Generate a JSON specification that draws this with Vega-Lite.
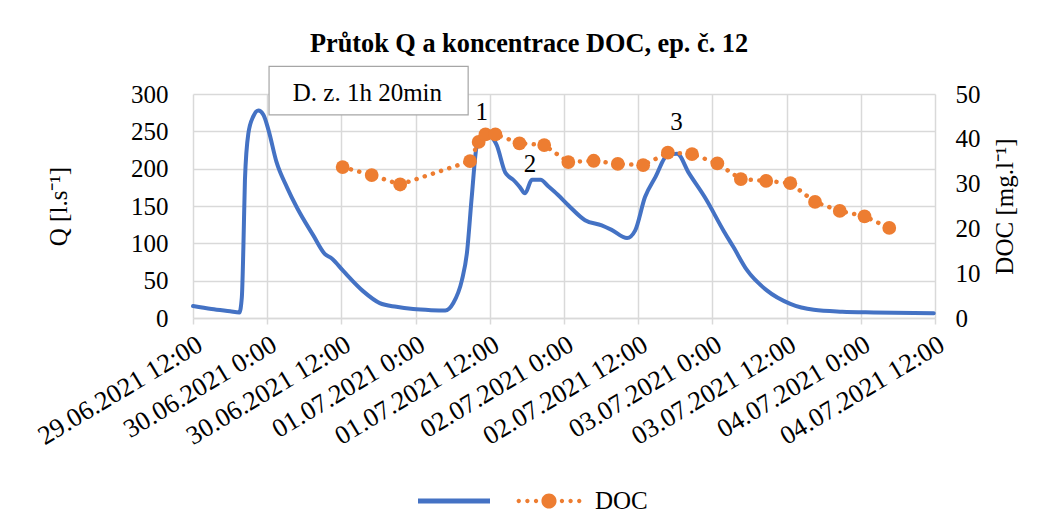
{
  "$schema": "https://vega.github.io/schema/vega-lite/v6.json",
  "width": 742,
  "height": 224,
  "padding": {"left": 193, "top": 94, "right": 106, "bottom": 212},
  "autosize": {"type": "none"},
  "background": "white",
  "config": {
    "font": "Liberation Serif",
    "view": {"stroke": null},
    "axis": {"labelColor": "black", "titleColor": "black", "labelFont": "Liberation Serif", "titleFont": "Liberation Serif"},
    "legend": {"labelFont": "Liberation Serif"},
    "text": {"font": "Liberation Serif"}
  },
  "title": {
    "text": "Průtok Q a koncentrace DOC, ep. č. 12",
    "font": "Liberation Serif",
    "fontSize": 26.3,
    "fontWeight": "bold",
    "color": "black",
    "anchor": "middle",
    "dx": -35,
    "offset": 8
  },
  "datasets": {
    "qdata": [
      {"time": "2021-06-29T12:00", "Q": 16},
      {"time": "2021-06-29T15:00", "Q": 12},
      {"time": "2021-06-29T18:00", "Q": 9},
      {"time": "2021-06-29T19:30", "Q": 7.5},
      {"time": "2021-06-29T19:54", "Q": 28},
      {"time": "2021-06-29T20:09", "Q": 95},
      {"time": "2021-06-29T20:24", "Q": 185},
      {"time": "2021-06-29T20:57", "Q": 247},
      {"time": "2021-06-29T21:45", "Q": 270},
      {"time": "2021-06-29T22:33", "Q": 278},
      {"time": "2021-06-29T23:24", "Q": 272},
      {"time": "2021-06-30T00:12", "Q": 252},
      {"time": "2021-06-30T01:30", "Q": 209},
      {"time": "2021-06-30T03:12", "Q": 175},
      {"time": "2021-06-30T04:48", "Q": 148},
      {"time": "2021-06-30T07:30", "Q": 110},
      {"time": "2021-06-30T09:18", "Q": 86},
      {"time": "2021-06-30T10:24", "Q": 80},
      {"time": "2021-06-30T12:18", "Q": 63},
      {"time": "2021-06-30T15:30", "Q": 36},
      {"time": "2021-06-30T18:12", "Q": 20},
      {"time": "2021-06-30T20:54", "Q": 15},
      {"time": "2021-06-30T23:36", "Q": 12},
      {"time": "2021-07-01T02:30", "Q": 10.5},
      {"time": "2021-07-01T04:48", "Q": 10},
      {"time": "2021-07-01T06:06", "Q": 20},
      {"time": "2021-07-01T07:30", "Q": 51},
      {"time": "2021-07-01T08:18", "Q": 87},
      {"time": "2021-07-01T09:06", "Q": 164},
      {"time": "2021-07-01T09:54", "Q": 231},
      {"time": "2021-07-01T11:00", "Q": 245},
      {"time": "2021-07-01T12:06", "Q": 243},
      {"time": "2021-07-01T13:06", "Q": 232},
      {"time": "2021-07-01T14:30", "Q": 195},
      {"time": "2021-07-01T15:00", "Q": 190},
      {"time": "2021-07-01T15:48", "Q": 185},
      {"time": "2021-07-01T16:48", "Q": 176},
      {"time": "2021-07-01T17:42", "Q": 167},
      {"time": "2021-07-01T18:48", "Q": 185},
      {"time": "2021-07-01T20:12", "Q": 185},
      {"time": "2021-07-01T21:30", "Q": 176},
      {"time": "2021-07-01T23:00", "Q": 165},
      {"time": "2021-07-02T00:42", "Q": 151},
      {"time": "2021-07-02T03:24", "Q": 131},
      {"time": "2021-07-02T06:06", "Q": 124},
      {"time": "2021-07-02T07:42", "Q": 118},
      {"time": "2021-07-02T10:12", "Q": 107},
      {"time": "2021-07-02T11:30", "Q": 117},
      {"time": "2021-07-02T13:06", "Q": 162},
      {"time": "2021-07-02T14:48", "Q": 189},
      {"time": "2021-07-02T16:42", "Q": 218},
      {"time": "2021-07-02T18:18", "Q": 220},
      {"time": "2021-07-02T20:12", "Q": 194},
      {"time": "2021-07-02T22:54", "Q": 160},
      {"time": "2021-07-03T01:48", "Q": 117},
      {"time": "2021-07-03T03:24", "Q": 95},
      {"time": "2021-07-03T05:36", "Q": 64},
      {"time": "2021-07-03T08:48", "Q": 37},
      {"time": "2021-07-03T12:36", "Q": 19},
      {"time": "2021-07-03T16:24", "Q": 11},
      {"time": "2021-07-03T21:00", "Q": 8.5},
      {"time": "2021-07-04T02:06", "Q": 7.5},
      {"time": "2021-07-04T11:48", "Q": 6.5}
    ],
    "docdata": [
      {"time": "2021-06-30T12:12", "DOC": 33.7, "series": "DOC"},
      {"time": "2021-06-30T16:54", "DOC": 31.9, "series": "DOC"},
      {"time": "2021-06-30T21:30", "DOC": 29.8, "series": "DOC"},
      {"time": "2021-07-01T08:48", "DOC": 35.0, "series": "DOC"},
      {"time": "2021-07-01T10:12", "DOC": 39.3, "series": "DOC"},
      {"time": "2021-07-01T11:18", "DOC": 41.0, "series": "DOC"},
      {"time": "2021-07-01T12:54", "DOC": 41.0, "series": "DOC"},
      {"time": "2021-07-01T16:48", "DOC": 39.0, "series": "DOC"},
      {"time": "2021-07-01T20:48", "DOC": 38.6, "series": "DOC"},
      {"time": "2021-07-02T00:42", "DOC": 34.8, "series": "DOC"},
      {"time": "2021-07-02T04:48", "DOC": 35.1, "series": "DOC"},
      {"time": "2021-07-02T08:42", "DOC": 34.4, "series": "DOC"},
      {"time": "2021-07-02T12:48", "DOC": 34.1, "series": "DOC"},
      {"time": "2021-07-02T16:48", "DOC": 36.9, "series": "DOC"},
      {"time": "2021-07-02T20:42", "DOC": 36.6, "series": "DOC"},
      {"time": "2021-07-03T00:48", "DOC": 34.5, "series": "DOC"},
      {"time": "2021-07-03T04:36", "DOC": 31.0, "series": "DOC"},
      {"time": "2021-07-03T08:42", "DOC": 30.6, "series": "DOC"},
      {"time": "2021-07-03T12:36", "DOC": 30.1, "series": "DOC"},
      {"time": "2021-07-03T16:36", "DOC": 25.9, "series": "DOC"},
      {"time": "2021-07-03T20:36", "DOC": 23.9, "series": "DOC"},
      {"time": "2021-07-04T00:36", "DOC": 22.7, "series": "DOC"},
      {"time": "2021-07-04T04:36", "DOC": 20.1, "series": "DOC"}
    ],
    "boxdata": [
      {"time": "2021-06-30T00:18", "time2": "2021-07-01T08:30", "Q": 337, "Q2": 272}
    ],
    "boxtextdata": [
      {"time": "2021-06-30T16:12", "Q": 302, "label": "D. z. 1h 20min"}
    ],
    "notedata": [
      {"time": "2021-07-01T10:42", "Q": 276, "label": "1"},
      {"time": "2021-07-01T18:30", "Q": 206, "label": "2"},
      {"time": "2021-07-02T18:12", "Q": 263, "label": "3"}
    ]
  },
  "encoding": {
    "x": {
      "field": "time", "type": "temporal",
      "scale": {"domain": ["2021-06-29T12:00", "2021-07-04T12:00"]},
      "axis": {
        "title": null,
        "format": "%d.%m.%Y %-H:%M",
        "tickCount": 10,
        "labelAngle": -31,
        "labelAlign": "right",
        "labelBaseline": "top",
        "labelFont": "Liberation Serif",
        "labelFontSize": 26.5,
        "labelLimit": 400,
        "labelPadding": 7,
        "labelOverlap": false,
        "labelFlush": false,
        "tickSize": 6,
        "tickColor": "#d9d9d9",
        "tickWidth": 1.5,
        "domainColor": "#d9d9d9",
        "domainWidth": 1.5,
        "gridColor": "#d9d9d9",
        "gridWidth": 1.5,
        "grid": true
      }
    }
  },
  "layer": [
    {
      "encoding": {
        "y": {
          "field": "Q", "type": "quantitative",
          "scale": {"domain": [0, 300], "nice": false},
          "axis": {
            "title": "Q [l.s⁻¹]",
            "values": [0, 50, 100, 150, 200, 250, 300],
            "labelFont": "Liberation Serif",
            "titleFont": "Liberation Serif",
            "labelFontSize": 25,
            "titleFontSize": 25,
            "titleFontWeight": "normal",
            "labelOverlap": false,
            "ticks": false,
            "domain": false,
            "labelPadding": 25,
            "titlePadding": 59,
            "grid": true,
            "gridColor": "#d9d9d9",
            "gridWidth": 1.5
          }
        }
      },
      "layer": [
        {
          "data": {"name": "qdata"},
          "mark": {"type": "line", "color": "#4472C4", "strokeWidth": 4, "strokeJoin": "round", "strokeCap": "round", "interpolate": "monotone"}
        },
        {
          "data": {"name": "boxdata"},
          "mark": {"type": "rect", "fill": "white", "stroke": "#a6a6a6", "strokeWidth": 1.2},
          "encoding": {
            "x2": {"field": "time2"},
            "y2": {"field": "Q2"}
          }
        },
        {
          "data": {"name": "boxtextdata"},
          "mark": {"type": "text", "font": "Liberation Serif", "fontSize": 25, "fill": "black", "align": "center", "baseline": "middle"},
          "encoding": {
            "text": {"field": "label", "type": "nominal"}
          }
        },
        {
          "data": {"name": "notedata"},
          "mark": {"type": "text", "font": "Liberation Serif", "fontSize": 25, "fill": "black", "align": "center", "baseline": "middle"},
          "encoding": {
            "text": {"field": "label", "type": "nominal"}
          }
        }
      ]
    },
    {
      "data": {"name": "docdata"},
      "encoding": {
        "y": {
          "field": "DOC", "type": "quantitative",
          "scale": {"domain": [0, 50], "nice": false},
          "axis": {
            "orient": "right",
            "title": "DOC [mg.l⁻¹]",
            "values": [0, 10, 20, 30, 40, 50],
            "labelFont": "Liberation Serif",
            "titleFont": "Liberation Serif",
            "labelFontSize": 25,
            "titleFontSize": 25,
            "titleFontWeight": "normal",
            "labelOverlap": false,
            "titleAngle": 270,
            "titleBaseline": "top",
            "ticks": false,
            "domain": false,
            "grid": false,
            "labelPadding": 20,
            "titlePadding": 12
          }
        }
      },
      "layer": [
        {
          "mark": {"type": "line", "color": "#ED7D31", "strokeWidth": 4.5, "strokeCap": "round", "strokeDash": [0.1, 8.5]}
        },
        {
          "mark": {"type": "point", "filled": true, "opacity": 1, "size": 190, "shape": "circle"},
          "encoding": {
            "color": {
              "field": "series", "type": "nominal",
              "scale": {"domain": ["Q", "DOC"], "range": ["#4472C4", "#ED7D31"]},
              "legend": {
                "orient": "none",
                "legendX": 225,
                "legendY": 371,
                "direction": "horizontal",
                "title": null,
                "labelExpr": "datum.label == 'Q' ? '' : datum.label",
                "labelFont": "Liberation Serif",
                "labelFontSize": 25,
                "labelColor": "black",
                "labelOffset": 10,
                "columnPadding": 13,
                "symbolSize": 5184,
                "symbolStrokeWidth": 0,
                "symbolOpacity": 1,
                "encode": {
                  "symbols": {
                    "update": {
                      "shape": {"signal": "datum.value == 'Q' ? 'M-1,-0.07H1V0.07H-1Z' : 'M-0.21,0a0.21,0.21 0 1,0 0.42,0a0.21,0.21 0 1,0 -0.42,0ZM-0.9,0a0.06,0.06 0 1,0 0.12,0a0.06,0.06 0 1,0 -0.12,0ZM-0.66,0a0.06,0.06 0 1,0 0.12,0a0.06,0.06 0 1,0 -0.12,0ZM-0.42,0a0.06,0.06 0 1,0 0.12,0a0.06,0.06 0 1,0 -0.12,0ZM0.3,0a0.06,0.06 0 1,0 0.12,0a0.06,0.06 0 1,0 -0.12,0ZM0.54,0a0.06,0.06 0 1,0 0.12,0a0.06,0.06 0 1,0 -0.12,0ZM0.78,0a0.06,0.06 0 1,0 0.12,0a0.06,0.06 0 1,0 -0.12,0Z'"}
                    }
                  }
                }
              }
            }
          }
        }
      ]
    }
  ],
  "resolve": {"scale": {"y": "independent"}}
}
